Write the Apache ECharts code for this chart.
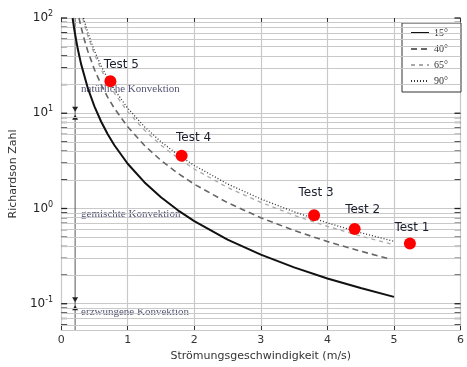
<!DOCTYPE html>
<html>
<head>
<meta charset="utf-8">
<script src="https://cdn.jsdelivr.net/npm/echarts@6/dist/echarts.min.js"></script>
<style>
  html, body { margin: 0; padding: 0; background: #fff; }
  #chart { width: 467px; height: 367px; }
</style>
</head>
<body>
<div id="chart"></div>
<script>
// Richardson number vs. flow velocity for four inclination angles
const seriesNames = ['15°', '40°', '65°', '90°'];

const ri15 = [[0.172, 100], [0.2, 73.8], [0.25, 47.2], [0.3, 32.8], [0.4, 18.4], [0.5, 11.8], [0.6, 8.19], [0.7, 6.02], [0.8, 4.61], [1.0, 2.95], [1.25, 1.89], [1.5, 1.31], [1.75, 0.963], [2.0, 0.738], [2.5, 0.472], [3.0, 0.328], [3.5, 0.241], [4.0, 0.184], [4.5, 0.146], [5.0, 0.118]];
const ri40 = [[0.268, 100], [0.3, 80], [0.35, 58.8], [0.4, 45], [0.5, 28.8], [0.6, 20], [0.7, 14.7], [0.8, 11.25], [1.0, 7.2], [1.25, 4.61], [1.5, 3.2], [1.75, 2.35], [2.0, 1.8], [2.5, 1.15], [3.0, 0.8], [3.5, 0.588], [4.0, 0.45], [4.5, 0.356], [4.95, 0.294]];
const ri65 = [[0.322, 100], [0.35, 84.9], [0.4, 65], [0.5, 41.6], [0.6, 28.9], [0.7, 21.2], [0.8, 16.3], [1.0, 10.4], [1.25, 6.66], [1.5, 4.62], [1.75, 3.4], [2.0, 2.6], [2.5, 1.66], [3.0, 1.16], [3.5, 0.849], [4.0, 0.65], [4.5, 0.514], [4.95, 0.424]];
const ri90 = [[0.336, 100], [0.35, 92.2], [0.4, 70.6], [0.5, 45.2], [0.6, 31.4], [0.7, 23.1], [0.8, 17.7], [1.0, 11.3], [1.25, 7.23], [1.5, 5.02], [1.75, 3.69], [2.0, 2.83], [2.5, 1.81], [3.0, 1.26], [3.5, 0.922], [4.0, 0.706], [4.5, 0.558], [5.0, 0.452]];

// measured test runs
const testNames = ['Test 5', 'Test 4', 'Test 3', 'Test 2', 'Test 1'];
const testPoints = [[0.74, 21.7], [1.81, 3.58], [3.8, 0.85], [4.41, 0.61], [5.24, 0.43]];
const testLabelOffsets = [[11, -16], [12, -18], [2, -22], [8, -19], [2, -16]];

// regime boundaries and region labels
const regimeX = 0.21;
const regimeBounds = [10, 0.1];
const regimeTop = 100;
const regimeBottom = 0.053;
const regionNames = ['natürliche Konvektion', 'gemischte Konvektion', 'erzwungene Konvektion'];
const regionAnchors = [[0.3, 17.8], [0.3, 0.87], [0.3, 0.082]];

// axis ranges and minor grid values
const xMin = 0, xMax = 6;
const yMin = 0.053, yMax = 100;
const minorValues = [0.06, 0.07, 0.08, 0.09,
  0.2, 0.3, 0.4, 0.5, 0.6, 0.7, 0.8, 0.9,
  2, 3, 4, 5, 6, 7, 8, 9,
  20, 30, 40, 50, 60, 70, 80, 90];
const tickValues = minorValues.concat([0.1, 1, 10, 100]);

const chart = echarts.init(document.getElementById('chart'), null, { renderer: 'canvas' });

const gridColor = '#c9c9c9';
const sans = 'DejaVu Sans';
const serif = 'Liberation Serif';
const lineColors = ['#111', '#666', '#aaa', '#333'];

function yLabel(v) {
  const e = Math.log10(v);
  const r = Math.round(e);
  if (Math.abs(e - r) > 1e-6) return '';
  return '{b|10}{s|' + r + '}';
}

const option = {
  animation: false,
  backgroundColor: '#fff',
  grid: { left: 55, top: 18, width: 411, height: 316, containLabel: false },
  legend: {
    orient: 'vertical',
    left: 402, top: 23,
    padding: [5, 13, 6, 8],
    itemWidth: 18, itemHeight: 10, itemGap: 6,
    borderColor: '#333', borderWidth: 1, backgroundColor: '#fff',
    data: seriesNames,
    itemStyle: { opacity: 0 },
    textStyle: { fontFamily: serif, fontSize: 10, color: '#333' }
  },
  xAxis: [{
    type: 'value', min: xMin, max: xMax, interval: 1,
    name: 'Strömungsgeschwindigkeit (m/s)',
    nameLocation: 'middle', nameGap: 21,
    nameTextStyle: { fontFamily: sans, fontSize: 11, color: '#333' },
    axisLine: { show: true, lineStyle: { color: gridColor, width: 1.2 } },
    axisTick: { show: true, inside: true, length: 4, lineStyle: { color: '#333' } },
    axisLabel: { fontFamily: sans, fontSize: 11, color: '#333', margin: 5 },
    splitLine: { show: true, lineStyle: { color: gridColor, width: 1.2 } }
  }, {
    type: 'value', min: xMin, max: xMax, interval: 1, position: 'top',
    axisLine: { show: true, lineStyle: { color: gridColor, width: 1.2 } },
    axisTick: { show: true, inside: true, length: 4, lineStyle: { color: '#333' } },
    axisLabel: { show: false },
    splitLine: { show: false }
  }],
  yAxis: [{
    type: 'log', logBase: 10, min: yMin, max: yMax,
    name: 'Richardson Zahl',
    nameLocation: 'middle', nameGap: 38,
    nameTextStyle: { fontFamily: sans, fontSize: 11, color: '#333' },
    axisLine: { show: true, lineStyle: { color: '#555', width: 1 } },
    axisTick: { show: false },
    axisLabel: {
      margin: 8, formatter: yLabel,
      rich: {
        b: { fontFamily: sans, fontSize: 12, color: '#222' },
        s: { fontFamily: sans, fontSize: 8, color: '#222', padding: [0, 0, 8, 0] }
      }
    },
    splitLine: { show: true, lineStyle: { color: gridColor, width: 1.2 } }
  }, {
    type: 'log', logBase: 10, min: yMin, max: yMax, position: 'right',
    axisLine: { show: true, lineStyle: { color: gridColor, width: 1 } },
    axisTick: { show: false },
    axisLabel: { show: false },
    splitLine: { show: false }
  }],
  series: [
    {
      // minor grid lines and small ticks on the left and right edges
      type: 'scatter', silent: true, z: 1,
      symbol: 'rect', symbolSize: [6, 1.3], symbolOffset: [3, 0],
      itemStyle: { color: '#222', opacity: 1 },
      data: tickValues.map(v => [xMin, v]),
      markLine: {
        silent: true, symbol: 'none', animation: false,
        label: { show: false },
        lineStyle: { color: gridColor, width: 1.2, type: 'solid' },
        data: minorValues.map(v => ({ yAxis: v }))
      }
    },
    {
      type: 'scatter', silent: true, z: 1,
      symbol: 'rect', symbolSize: [6, 1.3], symbolOffset: [-3, 0],
      itemStyle: { color: '#222', opacity: 1 },
      data: tickValues.map(v => [xMax, v])
    },
    {
      // regime divider with arrow heads at the boundaries
      type: 'line', silent: true, z: 3, symbol: 'none',
      lineStyle: { color: '#555', width: 1 },
      data: [[regimeX, regimeTop], [regimeX, regimeBottom]]
    },
    {
      type: 'scatter', silent: true, z: 3,
      symbol: 'triangle', symbolSize: [6, 5], symbolRotate: 180, symbolOffset: [0, -4],
      itemStyle: { color: '#222', opacity: 1 },
      data: regimeBounds.map(v => [regimeX, v])
    },
    {
      type: 'scatter', silent: true, z: 3,
      symbol: 'triangle', symbolSize: [6, 5], symbolOffset: [0, 4],
      itemStyle: { color: '#222', opacity: 1 },
      data: regimeBounds.map(v => [regimeX, v])
    },
    {
      type: 'scatter', silent: true, z: 4, symbolSize: 0,
      data: regionAnchors.map((p, i) => ({ value: p, name: regionNames[i] })),
      label: {
        show: true, position: 'right', distance: 0,
        formatter: p => p.name,
        fontFamily: serif, fontSize: 11, color: '#23264f'
      }
    },
    {
      name: seriesNames[0], type: 'line', symbol: 'none', z: 5,
      itemStyle: { color: lineColors[0] },
      lineStyle: { color: lineColors[0], width: 2, type: 'solid' },
      data: ri15
    },
    {
      name: seriesNames[1], type: 'line', symbol: 'none', z: 5,
      itemStyle: { color: lineColors[1] },
      lineStyle: { color: lineColors[1], width: 1.6, type: [6, 4] },
      data: ri40
    },
    {
      name: seriesNames[2], type: 'line', symbol: 'none', z: 5,
      itemStyle: { color: lineColors[2] },
      lineStyle: { color: lineColors[2], width: 1.3, type: [4, 4] },
      data: ri65
    },
    {
      name: seriesNames[3], type: 'line', symbol: 'none', z: 5,
      itemStyle: { color: lineColors[3] },
      lineStyle: { color: lineColors[3], width: 1.3, type: [1, 2] },
      data: ri90
    },
    {
      type: 'scatter', z: 6, symbol: 'circle', symbolSize: 12,
      itemStyle: { color: '#ff0000', opacity: 1 },
      data: testPoints.map((p, i) => ({
        value: p, name: testNames[i],
        label: { offset: testLabelOffsets[i] }
      })),
      label: {
        show: true, position: 'inside',
        formatter: p => p.name,
        fontFamily: sans, fontSize: 12, color: '#1a1f2e'
      }
    }
  ]
};

chart.setOption(option);
</script>
</body>
</html>
